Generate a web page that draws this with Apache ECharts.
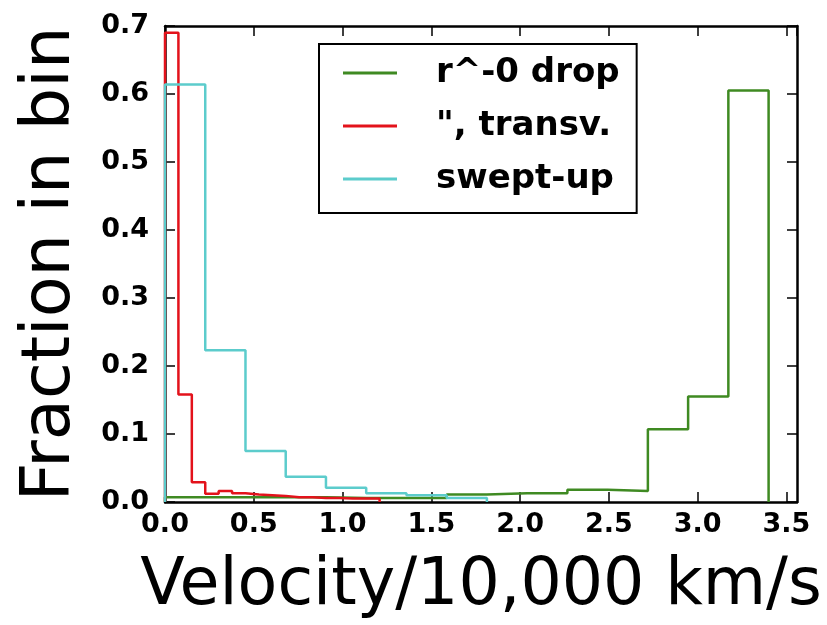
<!DOCTYPE html>
<html>
<head>
<meta charset="utf-8">
<script src="https://cdn.jsdelivr.net/npm/echarts@6/dist/echarts.min.js"></script>
<style>
  html, body { margin: 0; padding: 0; background: #fff; }
  #chart { width: 827px; height: 625px; }
</style>
</head>
<body>
<div id="chart"></div>
<script>
// histogram bins (velocity / 10,000 km/s)
const dropBinWidth = 3.4 / 15;
const transvBinWidth = 3.4 / 45;
const sweptBinWidth = 3.4 / 15;

// fraction in each bin
const dropFractions = [0.007, 0.007, 0.007, 0.007, 0.006, 0.006, 0.006, 0.011,
  0.013, 0.013, 0.018, 0.016, 0.107, 0.155, 0.605];
const transvFractions = [0.69, 0.158, 0.029, 0.012, 0.016, 0.013, 0.011, 0.010,
  0.009, 0.007, 0.007, 0.006, 0.006, 0.005, 0.005, 0.005];
const sweptFractions = [0.614, 0.223, 0.075, 0.037, 0.021, 0.013, 0.010, 0.006];

const seriesNames = ['r^-0 drop', '", transv.', 'swept-up'];
const seriesColors = ['#3f8a22', '#e3121b', '#5ccccc'];

const xMax = 3.56;
const yMax = 0.7;

// outline of a step histogram (histtype='step')
function stepOutline(values, width) {
  let pts = [[0, 0]];
  values.forEach(function (v, i) {
    pts.push([i * width, v]);
    pts.push([(i + 1) * width, v]);
  });
  pts.push([values.length * width, 0]);
  return pts;
}

const FONT = 'DejaVu Sans';

function axisBase(extra) {
  return Object.assign({
    type: 'value',
    axisLine: { show: true, onZero: false, lineStyle: { color: '#000', width: 2.5 } },
    axisTick: { show: true, inside: true, length: 10, lineStyle: { color: '#000', width: 1.5 } },
    splitLine: { show: false },
  }, extra);
}

const chart = echarts.init(document.getElementById('chart'));

const histData = [
  stepOutline(dropFractions, dropBinWidth),
  stepOutline(transvFractions, transvBinWidth),
  stepOutline(sweptFractions, sweptBinWidth),
];

chart.setOption({
  animation: false,
  backgroundColor: '#fff',
  grid: { left: 165, right: 30, top: 26, bottom: 123 },
  legend: {
    orient: 'vertical',
    left: 319,
    top: 44,
    padding: [11, 17, 16, 24],
    icon: 'rect',
    itemWidth: 54,
    itemHeight: 3,
    itemGap: 17,
    borderColor: '#000',
    borderWidth: 2,
    borderRadius: 0,
    backgroundColor: '#fff',
    data: seriesNames,
    textStyle: {
      fontFamily: FONT, fontWeight: 'bold', fontSize: 34, color: '#000',
      lineHeight: 36, padding: [0, 0, 0, 34],
    },
  },
  xAxis: [
    axisBase({
      min: 0, max: xMax, interval: 0.5, position: 'bottom',
      name: 'Velocity/10,000 km/s', nameLocation: 'middle', nameGap: 53,
      nameTextStyle: { fontFamily: FONT, fontSize: 65, color: '#000' },
      axisLabel: {
        show: true, margin: 9, showMaxLabel: false,
        fontFamily: FONT, fontWeight: 'bold', fontSize: 27, color: '#000',
        formatter: function (v) { return Math.abs(v / 0.5 - Math.round(v / 0.5)) < 1e-6 ? v.toFixed(1) : ''; },
      },
    }),
    axisBase({
      min: 0, max: xMax, interval: 0.5, position: 'top',
      axisLabel: { show: false },
    }),
  ],
  yAxis: [
    axisBase({
      min: 0, max: yMax, interval: 0.1, position: 'left',
      name: 'Fraction in bin', nameLocation: 'middle', nameGap: 80,
      nameTextStyle: { fontFamily: FONT, fontSize: 67, color: '#000' },
      axisLabel: {
        show: true, margin: 16,
        fontFamily: FONT, fontWeight: 'bold', fontSize: 27, color: '#000',
        formatter: function (v) { return v.toFixed(1); },
      },
    }),
    axisBase({
      min: 0, max: yMax, interval: 0.1, position: 'right',
      axisLabel: { show: false },
    }),
  ],
  series: seriesNames.map(function (name, i) {
    return {
      name: name,
      type: 'line',
      xAxisIndex: 0,
      yAxisIndex: 0,
      data: histData[i],
      symbol: 'none',
      showSymbol: false,
      clip: true,
      z: 2 + i,
      color: seriesColors[i],
      lineStyle: { color: seriesColors[i], width: 2.5 },
    };
  }),
});
</script>
</body>
</html>
